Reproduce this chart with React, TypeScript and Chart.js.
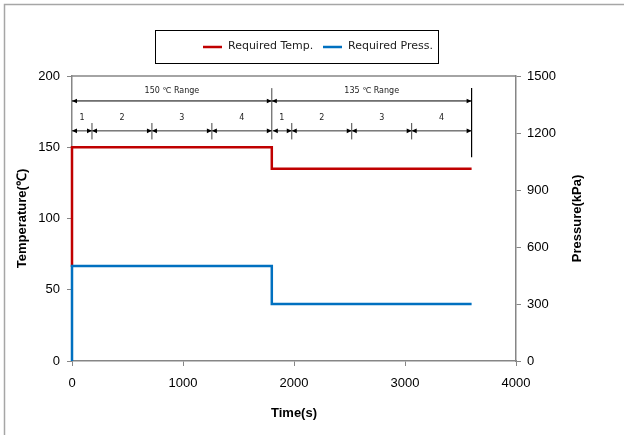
import { useEffect, useRef } from "react";
import { Chart, registerables } from "chart.js";

Chart.register(...registerables);

// ---- data ----
const seriesLabels = ["Required Temp.", "Required Press."];
const tempTimes = [0, 0, 1800, 1800, 3600];
const tempValues = [66, 150, 150, 135, 135];
const pressTimes = [0, 0, 1800, 1800, 3600];
const pressValues = [0, 500, 500, 300, 300];
const rangeLabels = ["150 \u2103 Range", "135 \u2103 Range"];
const rangeBounds = [
  [0, 180, 720, 1260, 1800],
  [1800, 1980, 2520, 3060, 3600],
];
const stageLabels = ["1", "2", "3", "4"];
const axisTitles = ["Time(s)", "Temperature(\u2103)", "Pressure(kPa)"];

const RED = "#C00000";
const BLUE = "#0070C0";
const AXIS = "#868686";
const SANS = "'Liberation Sans', Arial, sans-serif";
const LEG = "'DejaVu Sans', sans-serif";

function arrowHead(ctx: CanvasRenderingContext2D, x: number, y: number, dir: number) {
  const len = 5;
  const hw = 2.3;
  ctx.beginPath();
  ctx.moveTo(x, y);
  ctx.lineTo(x - dir * len, y - hw);
  ctx.lineTo(x - dir * len, y + hw);
  ctx.closePath();
  ctx.fill();
}

function dimLine(ctx: CanvasRenderingContext2D, x1: number, x2: number, y: number) {
  ctx.beginPath();
  ctx.moveTo(x1, y);
  ctx.lineTo(x2, y);
  ctx.stroke();
  arrowHead(ctx, x1, y, -1);
  arrowHead(ctx, x2, y, 1);
}

const annotationPlugin = {
  id: "annot",
  beforeDatasetsDraw(chart: any) {
    const ctx: CanvasRenderingContext2D = chart.ctx;
    const a = chart.chartArea;
    ctx.save();
    ctx.strokeStyle = AXIS;
    ctx.lineWidth = 1.5;
    ctx.beginPath();
    ctx.moveTo(a.left, a.top);
    ctx.lineTo(a.right, a.top);
    ctx.stroke();
    ctx.restore();
  },
  afterDatasetsDraw(chart: any) {
    const ctx: CanvasRenderingContext2D = chart.ctx;
    const xs = chart.scales.x;
    const ys = chart.scales.y;
    const X = (v: number) => xs.getPixelForValue(v);
    const Y = (v: number) => ys.getPixelForValue(v);
    ctx.save();
    ctx.lineWidth = 1;
    ctx.textAlign = "center";
    ctx.textBaseline = "middle";
    rangeBounds.forEach((b, ri) => {
      const x0 = X(b[0]);
      const xe = X(b[b.length - 1]);
      const last = ri === rangeBounds.length - 1;
      ctx.strokeStyle = "#000";
      ctx.fillStyle = "#000";
      dimLine(ctx, x0, xe, Y(182.5));
      ctx.font = `8px ${LEG}`;
      ctx.fillStyle = "#222";
      ctx.fillText(rangeLabels[ri], (x0 + xe) / 2, Y(189.5));
      ctx.strokeStyle = last ? "#000" : "#444";
      ctx.lineWidth = last ? 1.2 : 1;
      ctx.beginPath();
      ctx.moveTo(xe, Y(191.5));
      ctx.lineTo(xe, Y(last ? 143 : 155.5));
      ctx.stroke();
      ctx.lineWidth = 1;
      for (let i = 0; i < b.length - 1; i++) {
        const s1 = X(b[i]);
        const s2 = X(b[i + 1]);
        ctx.strokeStyle = "#333";
        ctx.fillStyle = "#000";
        dimLine(ctx, s1 + (i === 0 && ri > 0 ? 1 : 0), s2, Y(161.5));
        ctx.fillStyle = "#222";
        ctx.font = `8px ${LEG}`;
        ctx.fillText(stageLabels[i], (s1 + s2) / 2, Y(170.5));
        if (i > 0) {
          ctx.strokeStyle = "#444";
          ctx.beginPath();
          ctx.moveTo(s1, Y(167));
          ctx.lineTo(s1, Y(155.5));
          ctx.stroke();
        }
      }
    });
    ctx.restore();
  },
  afterDraw(chart: any) {
    const ctx: CanvasRenderingContext2D = chart.ctx;
    const a = chart.chartArea;
    ctx.save();
    ctx.font = `bold 13px ${SANS}`;
    ctx.fillStyle = "#000";
    ctx.textAlign = "center";
    ctx.textBaseline = "middle";
    ctx.translate(577, (a.top + a.bottom) / 2);
    ctx.rotate(-Math.PI / 2);
    ctx.fillText(axisTitles[2], 0, 0);
    ctx.restore();

    ctx.save();
    ctx.strokeStyle = "#A6A6A6";
    ctx.lineWidth = 1.5;
    ctx.beginPath();
    ctx.moveTo(4.5, 440);
    ctx.lineTo(4.5, 4.5);
    ctx.lineTo(630, 4.5);
    ctx.stroke();
    ctx.strokeStyle = "#000";
    ctx.lineWidth = 1;
    ctx.strokeRect(155.5, 30.5, 283, 33);
    const items = [
      { color: RED, x: 203, label: seriesLabels[0] },
      { color: BLUE, x: 323, label: seriesLabels[1] },
    ];
    ctx.font = `11px ${LEG}`;
    ctx.textBaseline = "middle";
    ctx.textAlign = "left";
    items.forEach((it) => {
      ctx.strokeStyle = it.color;
      ctx.lineWidth = 2.5;
      ctx.beginPath();
      ctx.moveTo(it.x, 47);
      ctx.lineTo(it.x + 19, 47);
      ctx.stroke();
      ctx.fillStyle = "#222";
      ctx.fillText(it.label, it.x + 25, 46.5);
    });
    ctx.restore();
  },
};

export default function App() {
  const ref = useRef<HTMLCanvasElement | null>(null);
  useEffect(() => {
    document.body.style.margin = "0";
    if (!ref.current) return;
    const tickFont = { family: SANS, size: 13 };
    const titleFont = { family: SANS, size: 13, weight: "bold" as const };
    const plain = (v: any) => String(v);
    const grid = {
      display: true,
      drawOnChartArea: false,
      drawTicks: true,
      tickLength: 5,
      color: AXIS,
      lineWidth: 1,
    };
    const border = { display: true, color: AXIS, width: 1.5 };
    const chart = new Chart(ref.current, {
      type: "line",
      data: {
        datasets: [
          {
            label: seriesLabels[0],
            data: tempTimes.map((t, i) => ({ x: t, y: tempValues[i] })),
            borderColor: RED,
            backgroundColor: RED,
            borderWidth: 2.5,
            pointRadius: 0,
            tension: 0,
            yAxisID: "y",
            order: 1,
            clip: false as any,
          },
          {
            label: seriesLabels[1],
            data: pressTimes.map((t, i) => ({ x: t, y: pressValues[i] })),
            borderColor: BLUE,
            backgroundColor: BLUE,
            borderWidth: 2.5,
            pointRadius: 0,
            tension: 0,
            yAxisID: "y1",
            order: 0,
            clip: false as any,
          },
        ],
      },
      options: {
        animation: false,
        responsive: false,
        maintainAspectRatio: false,
        layout: { padding: { top: 76, left: 0, right: 0, bottom: 0 } },
        plugins: { legend: { display: false }, tooltip: { enabled: false } },
        scales: {
          x: {
            type: "linear",
            min: 0,
            max: 4000,
            ticks: { stepSize: 1000, font: tickFont, color: "#000", padding: 10, maxRotation: 0, callback: plain },
            grid,
            border,
            title: { display: true, text: axisTitles[0], font: titleFont, color: "#000", padding: { top: 0, bottom: 14 } },
            afterFit: (s: any) => {
              s.height = 74;
            },
          },
          y: {
            type: "linear",
            position: "left",
            min: 0,
            max: 200,
            ticks: { stepSize: 50, font: tickFont, color: "#000", padding: 7, callback: plain },
            grid,
            border,
            title: { display: true, text: axisTitles[1], font: titleFont, color: "#000", padding: { top: 15, bottom: 0 } },
            afterFit: (s: any) => {
              s.width = 72;
            },
          },
          y1: {
            type: "linear",
            position: "right",
            min: 0,
            max: 1500,
            ticks: { stepSize: 300, font: tickFont, color: "#000", padding: 6, callback: plain },
            grid,
            border,
            title: { display: false },
            afterFit: (s: any) => {
              s.width = 108;
            },
          },
        },
      } as any,
      plugins: [annotationPlugin],
    });
    return () => chart.destroy();
  }, []);
  return (
    <div style={{ width: 624, height: 435 }}>
      <canvas ref={ref} width={624} height={435} style={{ display: "block" }} />
    </div>
  );
}
